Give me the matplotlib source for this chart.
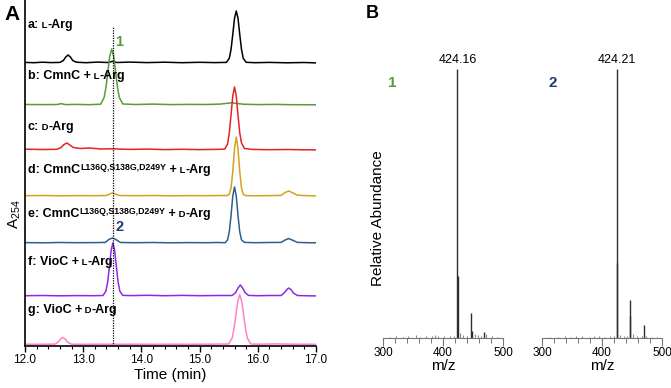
import numpy as np
import matplotlib.pyplot as plt
from matplotlib.ticker import MultipleLocator

plt.rcParams['font.family'] = ['Liberation Sans', 'DejaVu Sans']
plt.rcParams['mathtext.fontset'] = 'custom'
plt.rcParams['mathtext.rm'] = 'Liberation Sans'

# ---- panel A: HPLC traces (time in min, signal above own baseline) ----
t_a = [12.0, 12.15, 12.3, 12.45, 12.60, 12.66, 12.70, 12.74, 12.78, 12.82, 12.88,
       13.05, 13.25, 13.42, 13.50, 13.58, 13.8, 14.1, 14.4, 14.7, 15.0, 15.25,
       15.46, 15.51, 15.54, 15.57, 15.60, 15.63, 15.66, 15.69, 15.72, 15.75, 15.80,
       15.95, 16.2, 16.5, 16.8, 17.0]
v_a = [0.6, 0.3, 0.8, 0.4, 0.6, 2.5, 6, 8, 6, 2.5, 0.8,
       0.3, 0.9, 0.5, 1.6, 0.5, 0.9, 0.4, 0.8, 0.3, 0.7, 0.4,
       0.6, 4.7, 13.5, 28.6, 44.7, 52, 44.7, 28.6, 13.5, 4.7, 0.7,
       0.3, 0.6, 0.2, 0.5, 0.1]

t_b = [12.0, 12.3, 12.55, 12.62, 12.7, 12.9, 13.1,
       13.30, 13.36, 13.39, 13.42, 13.455, 13.49, 13.525, 13.56, 13.59, 13.62, 13.68,
       13.9, 14.2, 14.5, 14.8, 15.1, 15.35, 15.55, 15.75, 16.0, 16.3, 16.6, 17.0]
v_b = [0.5, 0.4, 0.5, 1.3, 0.4, 0.6, 0.3,
       0.8, 7.6, 17.4, 31.4, 48.4, 56, 48.4, 31.4, 17.4, 7.6, 1.0,
       0.5, 0.9, 0.4, 0.6, 0.5, 0.9, 2.2, 0.8, 0.4, 0.6, 0.3, 0.2]

t_c = [12.0, 12.3, 12.55, 12.62, 12.67, 12.72, 12.77, 12.83,
       12.95, 13.1, 13.3, 13.5, 13.8, 14.1, 14.4, 14.7, 15.0, 15.25,
       15.43, 15.48, 15.51, 15.54, 15.57, 15.60, 15.63, 15.66, 15.69, 15.72, 15.77,
       15.9, 16.2, 16.5, 16.8, 17.0]
v_c = [0.8, 0.5, 0.7, 2.5, 5.5, 7, 5, 2.5,
       1.5, 2, 1, 1.2, 0.6, 0.9, 0.4, 0.7, 0.4, 0.6,
       0.8, 5.7, 17, 34.7, 54.2, 63, 54.2, 34.7, 17, 7, 1.5,
       0.6, 0.3, 0.5, 0.2, 0.1]

t_d = [12.0, 12.3, 12.6, 12.9, 13.2, 13.40, 13.46, 13.50, 13.54, 13.62,
       13.9, 14.2, 14.5, 14.8, 15.1, 15.35,
       15.47, 15.51, 15.54, 15.57, 15.60, 15.63, 15.66, 15.69, 15.72, 15.75, 15.79,
       15.95, 16.2, 16.40, 16.47, 16.53, 16.59, 16.68, 16.85, 17.0]
v_d = [0.3, 0.5, 0.2, 0.4, 0.3, 0.5, 2.2, 3, 2.2, 0.5,
       0.3, 0.5, 0.2, 0.4, 0.3, 0.5,
       0.4, 1.7, 8, 24.2, 47.2, 59, 47.2, 24.2, 8, 1.7, 0.4,
       0.2, 0.4, 0.6, 3.5, 5, 3.5, 0.8, 0.3, 0.2]

t_e = [12.0, 12.3, 12.6, 12.9, 13.2, 13.38, 13.44, 13.50, 13.56, 13.64,
       13.9, 14.2, 14.5, 14.8, 15.1, 15.3,
       15.44, 15.48, 15.51, 15.54, 15.57, 15.60, 15.63, 15.66, 15.69, 15.72, 15.77,
       15.95, 16.2, 16.40, 16.47, 16.53, 16.59, 16.68, 16.85, 17.0]
v_e = [0.4, 0.2, 0.5, 0.3, 0.4, 0.6, 3.5, 5, 3.5, 0.5,
       0.3, 0.5, 0.2, 0.4, 0.3, 0.5,
       0.3, 3.1, 11.1, 27.3, 46.8, 56, 46.8, 27.3, 11.1, 3.1, 0.6,
       0.3, 0.5, 0.6, 3, 4.5, 3, 0.6, 0.3, 0.2]

t_f = [12.0, 12.3, 12.6, 12.9, 13.15,
       13.34, 13.39, 13.42, 13.45, 13.48, 13.51, 13.54, 13.57, 13.60, 13.63, 13.68,
       13.85, 14.1, 14.4, 14.7, 15.0, 15.3,
       15.56, 15.62, 15.66, 15.70, 15.74, 15.78, 15.84,
       16.0, 16.2, 16.40, 16.46, 16.50, 16.53, 16.57, 16.61, 16.68, 16.85, 17.0]
v_f = [0.3, 0.5, 0.2, 0.4, 0.3,
       0.5, 4.8, 13.8, 29.2, 45.6, 53, 45.6, 29.2, 13.8, 4.8, 0.6,
       0.4, 0.7, 0.3, 0.6, 0.3, 0.5,
       0.5, 3.5, 8, 11, 8, 3.5, 0.6,
       0.3, 0.5, 0.5, 3.5, 6.5, 8, 6.5, 3, 0.5, 0.2, 0.1]

t_g = [12.0, 12.2, 12.4, 12.52, 12.58, 12.62, 12.65, 12.69, 12.73, 12.80,
       13.0, 13.3, 13.6, 13.9, 14.2, 14.5, 14.8, 15.1, 15.35,
       15.50, 15.56, 15.59, 15.62, 15.655, 15.69, 15.725, 15.76, 15.79, 15.82, 15.88,
       16.05, 16.3, 16.6, 17.0]
v_g = [0.3, 0.2, 0.3, 0.4, 3, 6, 7, 5.5, 2.5, 0.3,
       0.2, 0.3, 0.2, 0.3, 0.2, 0.3, 0.2, 0.3, 0.4,
       0.5, 6.5, 15.5, 28, 43, 50, 43, 28, 15.5, 6.5, 0.5,
       0.3, 0.6, 0.3, 0.2]

# ---- panel B: MS spectra (m/z, relative abundance) ----
mz_1 = [424.16, 425.2, 446.1, 448.1, 468.2]
ab_1 = [100, 23, 9.3, 2.6, 2.2]
mz_1_noise = [312, 321, 333, 341, 355, 362, 372, 381, 386, 392, 402, 411, 419, 429, 433, 440, 453, 458, 464, 472, 481, 490]
ab_1_noise = [0.4, 0.6, 0.5, 0.8, 1.0, 0.5, 0.7, 0.6, 1.3, 0.8, 0.6, 0.9, 0.7, 1.8, 1.2, 0.8, 1.5, 1.0, 0.7, 1.6, 0.6, 0.5]

mz_2 = [424.21, 425.2, 446.2, 447.2, 469.2]
ab_2 = [100, 28, 14, 8, 5]
mz_2_noise = [314, 326, 338, 349, 357, 366, 378, 387, 395, 404, 413, 420, 430, 436, 442, 452, 459, 466, 474, 483, 492]
ab_2_noise = [0.4, 0.5, 0.6, 0.5, 0.9, 0.7, 0.5, 0.6, 0.8, 0.5, 0.7, 0.6, 1.2, 0.8, 0.6, 1.4, 0.9, 0.6, 0.8, 0.5, 0.4]

fig = plt.figure(figsize=(6.71, 3.88), dpi=100)
W, H = 671.0, 388.0

# chromatogram axes, y in pixel-like units
ax = fig.add_axes([25 / W, 42 / H, 291 / W, 346 / H])
ax.set_xlim(12.0, 17.0)
ax.set_ylim(0, 346)

traces = [(t_a, v_a, 283, 'black'),
          (t_b, v_b, 241, '#5b9a3a'),
          (t_c, v_c, 196, '#e52228'),
          (t_d, v_d, 150, '#d6a21c'),
          (t_e, v_e, 103, '#2d5f8c'),
          (t_f, v_f, 50, '#8a2be2'),
          (t_g, v_g, 1.5, '#ff7fca')]
for t, v, base, col in traces:
    ax.plot(t, np.array(v) + base, color=col, lw=1.1)

ax.vlines(13.52, 0, 320, colors='black', linestyles=(0, (1, 1)), lw=0.9)

for s in ['top', 'right']:
    ax.spines[s].set_visible(False)
ax.spines['left'].set_linewidth(1.2)
ax.spines['bottom'].set_linewidth(1.2)
ax.set_yticks([])
ax.xaxis.set_major_locator(MultipleLocator(1.0))
ax.xaxis.set_minor_locator(MultipleLocator(0.2))
ax.set_xticks([12, 13, 14, 15, 16, 17])
ax.set_xticklabels(['12.0', '13.0', '14.0', '15.0', '16.0', '17.0'])
ax.tick_params(axis='x', which='major', length=4, width=1, labelsize=8.5, pad=2)
ax.tick_params(axis='x', which='minor', length=2.5, width=0.8)
ax.set_xlabel('Time (min)', fontsize=11, labelpad=1)


def label(y, parts):
    s0, size0, r0 = parts[0]
    prev = ax.text(12.05, y, s0, fontsize=size0, fontweight='bold', va='baseline')
    for s, size, rise in parts[1:]:
        prev = ax.annotate(s, xy=(1, y), xycoords=(prev, 'data'), xytext=(0, rise),
                           textcoords='offset points', fontsize=size,
                           fontweight='bold', va='baseline')


sc = 6.8
sup = 'L136Q,S138G,D249Y'
label(318, [('a:', 9, 0), (' L', sc, 0), ('-Arg', 9, 0)])
label(267, [('b: CmnC +', 9, 0), (' L', sc, 0), ('-Arg', 9, 0)])
label(216, [('c:', 9, 0), (' D', sc, 0), ('-Arg', 9, 0)])
label(173, [('d: CmnC', 9, 0), (sup, 6.3, 2.5), (' +', 9, 0), (' L', sc, 0), ('-Arg', 9, 0)])
label(129, [('e: CmnC', 9, 0), (sup, 6.3, 2.5), (' +', 9, 0), (' D', sc, 0), ('-Arg', 9, 0)])
label(81, [('f: VioC +', 9, 0), (' L', sc, 0), ('-Arg', 9, 0)])
label(33, [('g: VioC +', 9, 0), (' D', sc, 0), ('-Arg', 9, 0)])

ax.text(13.62, 304, '1', color='#5b9a3a', fontsize=10.5, fontweight='bold', ha='center', va='center')
ax.text(13.63, 119, '2', color='#1f3b6b', fontsize=10.5, fontweight='bold', ha='center', va='center')

fig.text(15 / W, 1 - 214 / H, r'A$_{254}$', rotation=90, fontsize=11, ha='center', va='center')
fig.text(12 / W, 1 - 15 / H, 'A', fontsize=15, fontweight='bold', ha='center', va='center')
fig.text(372 / W, 1 - 14 / H, 'B', fontsize=13, fontweight='bold', ha='center', va='center')

# mass spectra
specs = [(383, mz_1, ab_1, mz_1_noise, ab_1_noise, '424.16'),
         (542, mz_2, ab_2, mz_2_noise, ab_2_noise, '424.21')]
for left, mz, ab, mzn, abn, lab in specs:
    bx = fig.add_axes([left / W, 50 / H, 120 / W, 298 / H])
    bx.set_xlim(300, 500)
    bx.set_ylim(0, 110.8)
    bx.vlines(mzn, 0, abn, colors='#8a8a8a', lw=0.8)
    bx.vlines(mz, 0, ab, colors='#2e2e2e', lw=1.0)
    bx.text(mz[0], 101, lab, ha='center', va='bottom', fontsize=9)
    for s in ['top', 'right', 'left']:
        bx.spines[s].set_visible(False)
    bx.spines['bottom'].set_color('#777777')
    bx.spines['bottom'].set_linewidth(0.8)
    bx.set_yticks([])
    bx.xaxis.set_major_locator(MultipleLocator(100))
    bx.xaxis.set_minor_locator(MultipleLocator(20))
    bx.tick_params(axis='x', which='major', length=5.5, width=0.8, color='#777777', labelsize=8.5, pad=1)
    bx.tick_params(axis='x', which='minor', length=3.5, width=0.7, color='#777777')
    bx.set_xlabel('m/z', fontsize=11, labelpad=0)

fig.text(392 / W, 1 - 83 / H, '1', color='#5b9a3a', fontsize=11, fontweight='bold', ha='center', va='center')
fig.text(553 / W, 1 - 83 / H, '2', color='#1f3b6b', fontsize=11, fontweight='bold', ha='center', va='center')
fig.text(378 / W, 1 - 218 / H, 'Relative Abundance', rotation=90, fontsize=11, ha='center', va='center')

fig.savefig('out.png', dpi=100)
